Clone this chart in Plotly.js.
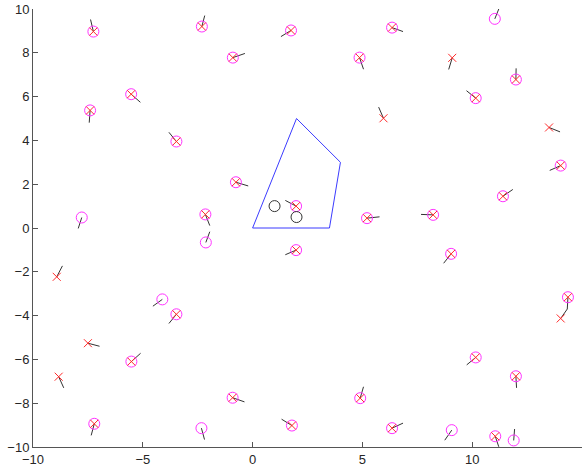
<!DOCTYPE html>
<html>
<head>
<meta charset="utf-8">
<script src="https://cdn.plot.ly/plotly-3.0.1.min.js"></script>
<style>html,body{margin:0;padding:0;background:#fff}#chart{width:587px;height:470px}</style>
</head>
<body>
<div id="chart"></div>
<script>
// Magenta circles (true landmarks)
const circleX = [-7.25,-2.31,1.75,-0.9,6.35,4.87,11.99,10.16,-5.53,-7.4,-3.47,-3.47,-5.52,-7.21,-0.91,1.79,4.9,6.35,11.05,10.16,11.99,14.36,-0.76,-2.15,1.98,1.98,5.21,8.22,9.04,11.4,14.03,
                 11.03,-7.78,-4.11,-2.33,9.07,11.89,-2.13];
const circleY = [8.97,9.2,9.02,7.78,9.15,7.78,6.78,5.93,6.11,5.37,3.95,-3.94,-6.1,-8.94,-7.75,-9.02,-7.77,-9.14,-9.51,-5.91,-6.77,-3.16,2.09,0.62,1.0,-1.01,0.45,0.6,-1.18,1.45,2.85,
                 9.55,0.48,-3.26,-9.14,-9.23,-9.7,-0.66];
// Red crosses (estimated landmarks)
const crossX = [-7.25,-2.31,1.75,-0.9,6.35,4.87,11.99,10.16,-5.53,-7.4,-3.47,-3.47,-5.52,-7.21,-0.91,1.79,4.9,6.35,11.05,10.16,11.99,14.36,-0.76,-2.15,1.98,1.98,5.21,8.22,9.04,11.4,14.03,
                9.09,13.5,5.96,-8.92,-7.5,-8.83,14.03];
const crossY = [8.97,9.2,9.02,7.78,9.15,7.78,6.78,5.93,6.11,5.37,3.95,-3.94,-6.1,-8.94,-7.75,-9.02,-7.77,-9.14,-9.51,-5.91,-6.77,-3.16,2.09,0.62,1.0,-1.01,0.45,0.6,-1.18,1.45,2.85,
                7.77,4.59,5.01,-2.23,-5.26,-6.79,-4.13];
// Short black segments (start -> end)
const segX0 = [-7.25,-2.31,1.75,-0.9,6.35,4.87,9.09,11.03,11.99,10.16,13.5,5.96,-5.53,-7.4,-3.47,-7.78,-8.92,-4.11,-3.47,-7.5,-5.52,-8.83,-7.21,-2.33,-0.91,1.79,4.9,6.35,9.07,11.05,11.89,10.16,11.99,14.36,14.03,-0.76,-2.15,-2.13,1.98,1.98,5.21,8.22,9.04,11.4,14.03];
const segY0 = [8.97,9.2,9.02,7.78,9.15,7.78,7.77,9.55,6.78,5.93,4.59,5.01,6.11,5.37,3.95,0.48,-2.23,-3.26,-3.94,-5.26,-6.1,-6.79,-8.94,-9.14,-7.75,-9.02,-7.77,-9.14,-9.23,-9.51,-9.7,-5.91,-6.77,-3.16,-4.13,2.09,0.62,-0.66,1.0,-1.01,0.45,0.6,-1.18,1.45,2.85];
const segX1 = [-7.38,-2.18,1.29,-0.35,6.85,5.05,8.93,11.21,12.0,9.74,14.0,5.74,-5.11,-7.44,-3.81,-7.94,-8.66,-4.54,-3.81,-6.97,-5.1,-8.6,-7.35,-2.19,-0.37,1.32,5.05,6.85,8.75,11.21,11.93,9.75,12.02,14.33,14.33,-0.2,-1.95,-1.95,1.49,1.49,5.78,7.67,8.7,11.85,13.53];
const segY1 = [9.52,9.7,8.74,7.97,8.97,7.25,7.24,10.0,7.29,6.27,4.39,5.52,5.74,4.81,4.37,-0.02,-1.73,-3.57,-4.36,-5.4,-5.72,-7.3,-9.47,-9.66,-7.94,-8.73,-7.25,-8.91,-9.69,-9.99,-9.18,-6.25,-7.3,-3.7,-3.7,1.92,0.11,-0.17,1.26,-1.22,0.51,0.62,-1.61,1.76,2.63];
// Blue polygon
const polyX = [0,2,4,3.5,0];
const polyY = [0,5,3,0,0];
// Black circles
const blackX = [1,2];
const blackY = [1,0.5];

const lx = [], ly = [];
for (let i = 0; i < segX0.length; i++) {
  lx.push(segX0[i], segX1[i], null);
  ly.push(segY0[i], segY1[i], null);
}

const traces = [
  {x: polyX, y: polyY, mode: 'lines', line: {color: '#3b3bff', width: 1}, hoverinfo: 'skip'},
  {x: lx, y: ly, mode: 'lines', line: {color: '#333333', width: 1}, hoverinfo: 'skip'},
  {x: circleX, y: circleY, mode: 'markers', marker: {symbol: 'circle-open', size: 11, color: '#ff33ff', line: {width: 1, color: '#ff33ff'}}},
  {x: crossX, y: crossY, mode: 'markers', marker: {symbol: 'x-thin-open', size: 8, color: '#ff2a2a', line: {width: 1, color: '#ff2a2a'}}},
  {x: blackX, y: blackY, mode: 'markers', marker: {symbol: 'circle-open', size: 11, color: '#333333', line: {width: 1, color: '#333333'}}}
];

const axisCommon = {
  showgrid: false, zeroline: false, showline: true, linecolor: '#555555', linewidth: 1,
  ticks: 'inside', ticklen: 5, tickcolor: '#555555', mirror: false,
  tickfont: {family: 'Liberation Sans, Arial, sans-serif', size: 13, color: '#262626'}
};

const layout = {
  width: 587, height: 470,
  margin: {l: 33, r: 5, t: 9, b: 23},
  paper_bgcolor: '#ffffff', plot_bgcolor: '#ffffff',
  showlegend: false,
  xaxis: Object.assign({}, axisCommon, {range: [-10, 15], dtick: 5, tick0: -10}),
  yaxis: Object.assign({}, axisCommon, {range: [-10, 10], dtick: 2, tick0: -10})
};

Plotly.newPlot('chart', traces, layout, {displayModeBar: false, staticPlot: true});
</script>
</body>
</html>
